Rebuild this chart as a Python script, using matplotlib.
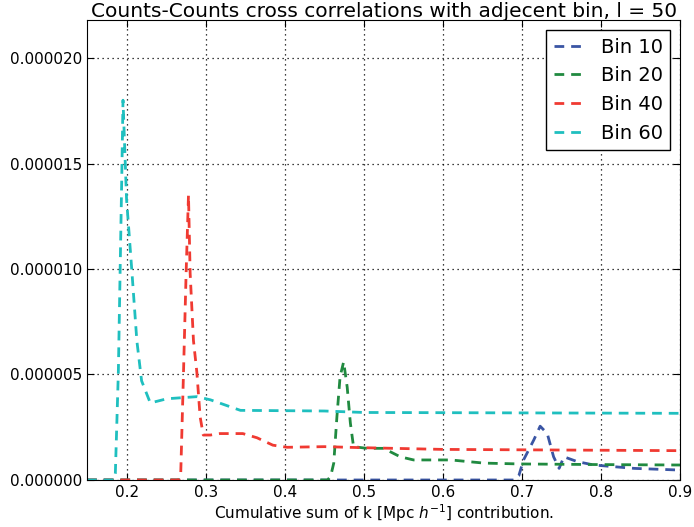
import numpy as np
import matplotlib
matplotlib.use('Agg')
import matplotlib.pyplot as plt
from matplotlib.ticker import FormatStrFormatter, MultipleLocator

# values (x = cumulative k, y = correlation)
bin10_x = [0.15, 0.690, 0.696, 0.702, 0.715, 0.723, 0.732, 0.740, 0.747, 0.753, 0.770, 0.791, 0.842, 0.90]
bin10_y = [0.0, 0.0, 0.2e-6, 0.95e-6, 1.9e-6, 2.55e-6, 2.2e-6, 1.1e-6, 0.55e-6, 1.1e-6, 0.87e-6, 0.71e-6, 0.55e-6, 0.47e-6]

bin20_x = [0.15, 0.454, 0.458, 0.462, 0.466, 0.470, 0.4745, 0.479, 0.483, 0.487, 0.504, 0.525, 0.546, 0.563, 0.610, 0.652, 0.698, 0.80, 0.90]
bin20_y = [0.0, 0.0, 0.16e-6, 0.8e-6, 3.0e-6, 4.9e-6, 5.6e-6, 4.4e-6, 2.7e-6, 1.58e-6, 1.5e-6, 1.5e-6, 1.1e-6, 0.95e-6, 0.95e-6, 0.8e-6, 0.76e-6, 0.73e-6, 0.71e-6]

bin40_x = [0.15, 0.266, 0.2685, 0.272, 0.2753, 0.2783, 0.2804, 0.2846, 0.2889, 0.293, 0.297, 0.306, 0.318, 0.347, 0.365, 0.385, 0.403, 0.45, 0.50, 0.60, 0.90]
bin40_y = [0.0, 0.0, 0.3e-6, 5.1e-6, 9.8e-6, 13.5e-6, 9.8e-6, 6.6e-6, 5.1e-6, 3.0e-6, 2.13e-6, 2.13e-6, 2.2e-6, 2.2e-6, 2.0e-6, 1.65e-6, 1.55e-6, 1.58e-6, 1.53e-6, 1.45e-6, 1.39e-6]

bin60_x = [0.15, 0.184, 0.1858, 0.1896, 0.1918, 0.194, 0.1955, 0.200, 0.2066, 0.213, 0.219, 0.230, 0.251, 0.289, 0.306, 0.344, 0.45, 0.50, 0.90]
bin60_y = [0.0, 0.0, 0.3e-6, 5.1e-6, 9.8e-6, 14.5e-6, 18.0e-6, 13.3e-6, 9.95e-6, 6.6e-6, 4.7e-6, 3.65e-6, 3.85e-6, 3.95e-6, 3.8e-6, 3.3e-6, 3.27e-6, 3.2e-6, 3.16e-6]

plt.rcParams['font.family'] = 'DejaVu Sans'

fig = plt.figure(figsize=(6.94, 5.27), dpi=100)
ax = fig.add_axes([0.1254, 0.0892, 0.8546, 0.8728])

dash = (3.5, 2.5)
ax.plot(bin10_x, bin10_y, '--', dashes=dash, color='#3a55a4', lw=2, label='Bin 10')
ax.plot(bin20_x, bin20_y, '--', dashes=dash, color='#208a40', lw=2, label='Bin 20')
ax.plot(bin40_x, bin40_y, '--', dashes=dash, color='#f03a32', lw=2, label='Bin 40')
ax.plot(bin60_x, bin60_y, '--', dashes=dash, color='#1fbfbf', lw=2, label='Bin 60')

ax.set_xlim(0.15, 0.9)
ax.set_ylim(0, 2.18e-5)
ax.xaxis.set_major_locator(MultipleLocator(0.1))
ax.yaxis.set_major_locator(MultipleLocator(5e-6))
ax.yaxis.set_major_formatter(FormatStrFormatter('%.6f'))
ax.tick_params(direction='in', top=True, right=True, labelsize=11, length=5)
ax.grid(True, color='k', linestyle=(0, (1, 3)), lw=0.9)

ax.set_title('Counts-Counts cross correlations with adjecent bin, l = 50', fontsize=14.5, pad=2)
ax.set_xlabel(r'Cumulative sum of k [Mpc $h^{-1}$] contribution.', fontsize=11, labelpad=2)

leg = ax.legend(loc='upper right', fontsize=14, fancybox=False, framealpha=1, handlelength=1.6)
leg.get_frame().set_edgecolor('k')

plt.savefig('out.png', dpi=100)
